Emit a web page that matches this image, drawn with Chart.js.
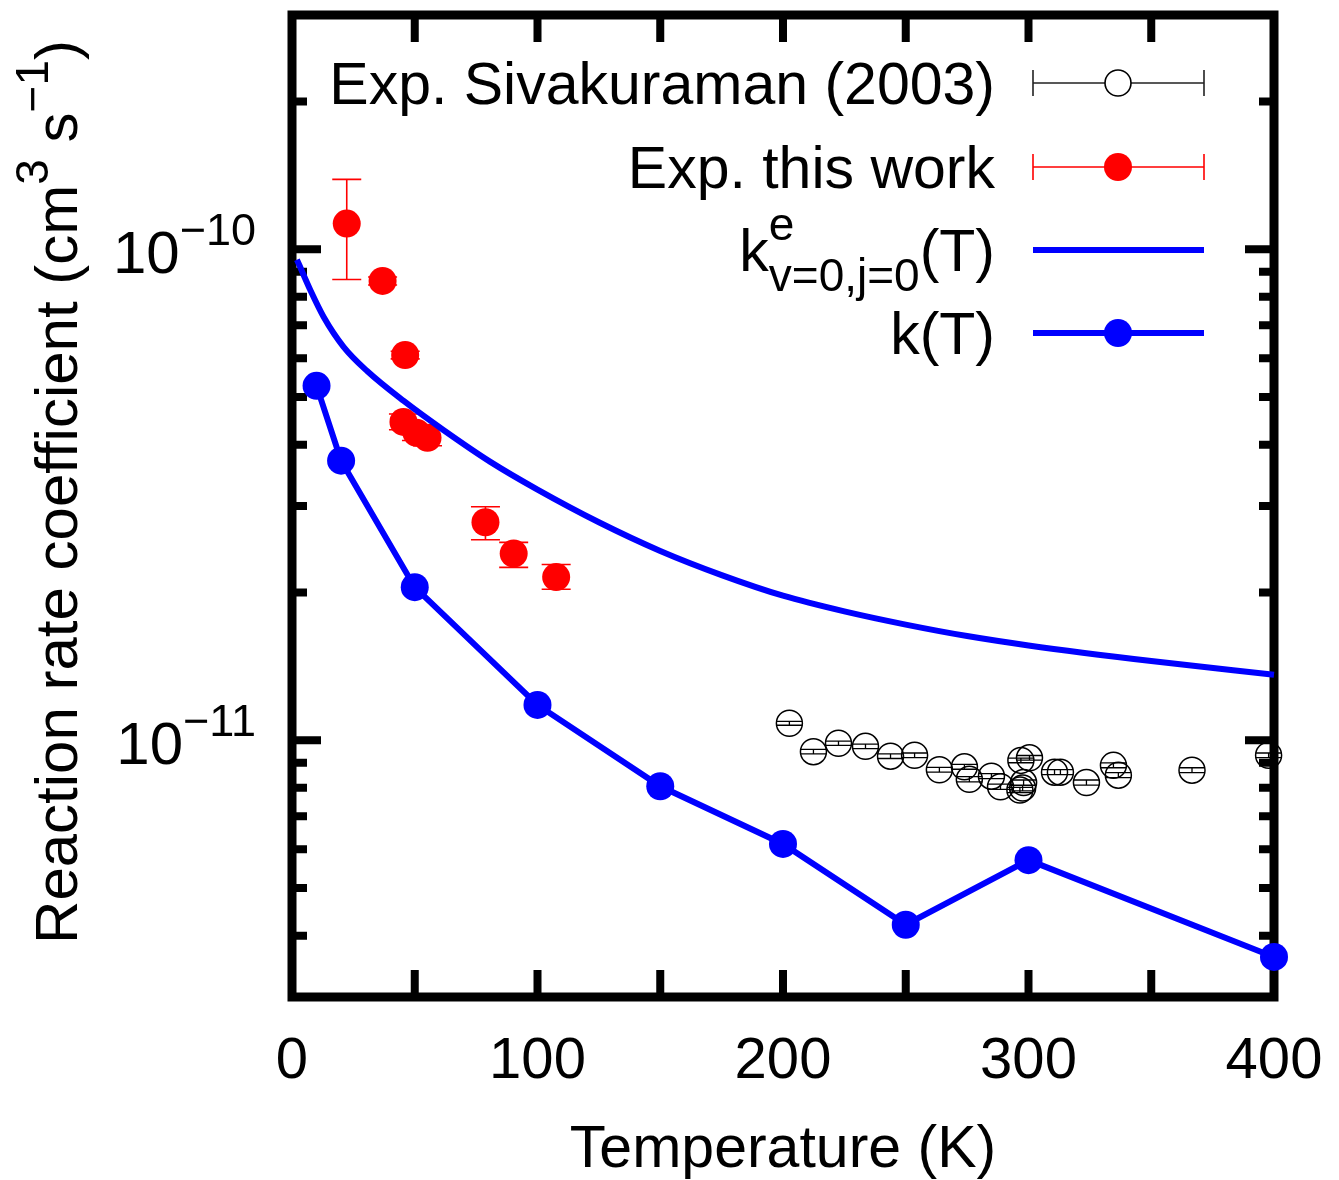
<!DOCTYPE html>
<html>
<head>
<meta charset="utf-8">
<script src="https://cdn.jsdelivr.net/npm/chart.js@4/dist/chart.umd.min.js"></script>
<style>
  html, body { margin: 0; padding: 0; background: #fff; }
  #wrap { width: 1339px; height: 1180px; position: relative; }
</style>
</head>
<body>
<div id="wrap"><canvas id="chart"></canvas></div>
<script>
// Exp. Sivakuraman (2003)
const sivaT = [202.6, 212.4, 222.6, 233.6, 243.8, 253.6, 263.7, 273.9, 275.9, 284.9, 288.6, 296.9, 300.4, 298.0, 297.6, 296.5, 310.6, 313.0, 323.6, 334.6, 336.6, 366.6, 397.8];
const sivaK = [1.083e-11, 9.48e-12, 9.86e-12, 9.72e-12, 9.28e-12, 9.32e-12, 8.71e-12, 8.83e-12, 8.33e-12, 8.45e-12, 8.04e-12, 9.10e-12, 9.21e-12, 8.20e-12, 7.99e-12, 7.92e-12, 8.61e-12, 8.61e-12, 8.20e-12, 8.89e-12, 8.49e-12, 8.69e-12, 9.32e-12];
const sivaErr = [0.1e-12, 0.1e-12, 0.1e-12, 0.1e-12, 0.1e-12, 0.1e-12, 0.1e-12, 0.1e-12, 0.1e-12, 0.1e-12, 0.1e-12, 0.1e-12, 0.1e-12, 0.1e-12, 0.1e-12, 0.1e-12, 0.1e-12, 0.1e-12, 0.1e-12, 0.1e-12, 0.1e-12, 0.1e-12, 0.1e-12];

// Exp. this work
const thisT = [22.3, 36.9, 46.1, 45.4, 50.7, 55.2, 78.8, 90.3, 107.6];
const thisK = [1.128e-10, 8.62e-11, 6.09e-11, 4.45e-11, 4.23e-11, 4.13e-11, 2.78e-11, 2.40e-11, 2.15e-11];
const thisLo = [8.68e-11, 8.46e-11, 5.98e-11, 4.29e-11, 4.08e-11, 3.98e-11, 2.56e-11, 2.25e-11, 2.03e-11];
const thisHi = [1.388e-10, 8.78e-11, 6.20e-11, 4.62e-11, 4.39e-11, 4.29e-11, 2.99e-11, 2.53e-11, 2.28e-11];

// k^e_{v=0,j=0}(T)
const keT = [2, 2.7, 7.5, 12.9, 21, 30.6, 45.5, 61.8, 80.8, 100, 125, 150, 175, 200, 225, 250, 275, 300, 350, 400];
const keK = [9.52e-11, 9.35e-11, 8.25e-11, 7.28e-11, 6.33e-11, 5.65e-11, 4.91e-11, 4.28e-11, 3.69e-11, 3.24e-11, 2.78e-11, 2.43e-11, 2.17e-11, 1.97e-11, 1.83e-11, 1.72e-11, 1.63e-11, 1.56e-11, 1.45e-11, 1.36e-11];

// k(T)
const kT = [10, 20, 50, 100, 150, 200, 250, 300, 400];
const kK = [5.27e-11, 3.71e-11, 2.05e-11, 1.18e-11, 8.06e-12, 6.15e-12, 4.21e-12, 5.70e-12, 3.62e-12];

// axes
const xTickLabels = [0, 100, 200, 300, 400];
const xTickMarks = [50, 100, 150, 200, 250, 300, 350];
const yDecades = [1e-10, 1e-11];

const FONT = '"Liberation Sans", Arial, Helvetica, sans-serif';
const RED = '#ff0000';
const BLUE = '#0000ff';

const pts = (xs, ys) => xs.map((x, i) => ({x: x, y: ys[i]}));

function layoutParts(ctx, parts) {
	let x = 0;
	let prevStart = 0;
	const items = [];
	for (const p of parts) {
		ctx.font = p.size + 'px ' + FONT;
		const w = ctx.measureText(p.text).width;
		let start;
		if (p.stack) {
			start = prevStart;
			x = Math.max(x, start + w);
		} else {
			start = x;
			x = start + w;
		}
		items.push({p: p, start: start});
		prevStart = start;
	}
	return {items: items, width: x};
}

function drawParts(ctx, parts, x, y, align) {
	const l = layoutParts(ctx, parts);
	let x0 = x;
	if (align === 'right') x0 = x - l.width;
	if (align === 'center') x0 = x - l.width / 2;
	ctx.textAlign = 'left';
	ctx.textBaseline = 'alphabetic';
	for (const it of l.items) {
		ctx.font = it.p.size + 'px ' + FONT;
		ctx.fillText(it.p.text, x0 + it.start, y + (it.p.dy || 0));
	}
}

function drawErrBars(c, xs, lo, hi, color, lw, cap) {
	const ctx = c.ctx;
	const sx = c.scales.x;
	const sy = c.scales.y;
	ctx.save();
	ctx.strokeStyle = color;
	ctx.lineWidth = lw;
	ctx.beginPath();
	xs.forEach((t, i) => {
		const px = sx.getPixelForValue(t);
		const pTop = sy.getPixelForValue(hi[i]);
		const pBot = sy.getPixelForValue(lo[i]);
		ctx.moveTo(px, pTop); ctx.lineTo(px, pBot);
		ctx.moveTo(px - cap, pTop); ctx.lineTo(px + cap, pTop);
		ctx.moveTo(px - cap, pBot); ctx.lineTo(px + cap, pBot);
	});
	ctx.stroke();
	ctx.restore();
}

const framePlugin = {
	id: 'frame',
	beforeDatasetsDraw(c) {
		const ctx = c.ctx;
		const a = c.chartArea;
		const sx = c.scales.x;
		const sy = c.scales.y;
		ctx.save();
		ctx.strokeStyle = '#000';
		ctx.lineWidth = 8;
		ctx.beginPath();
		xTickMarks.forEach(t => {
			const px = sx.getPixelForValue(t);
			ctx.moveTo(px, a.bottom); ctx.lineTo(px, a.bottom - 27);
			ctx.moveTo(px, a.top); ctx.lineTo(px, a.top + 27);
		});
		for (let e = -12; e <= -10; e++) {
			for (let m = 1; m <= 9; m++) {
				const v = m * Math.pow(10, e);
				if (v < sy.min * 0.999 || v > sy.max * 1.001) continue;
				const py = sy.getPixelForValue(v);
				const len = m === 1 ? 29 : 15;
				ctx.moveTo(a.left, py); ctx.lineTo(a.left + len, py);
				ctx.moveTo(a.right, py); ctx.lineTo(a.right - len, py);
			}
		}
		ctx.stroke();
		ctx.lineWidth = 9;
		ctx.strokeRect(a.left, a.top, a.right - a.left, a.bottom - a.top);

		// tick labels
		ctx.fillStyle = '#000';
		ctx.font = '58px ' + FONT;
		ctx.textAlign = 'center';
		ctx.textBaseline = 'alphabetic';
		xTickLabels.forEach(t => {
			ctx.fillText(String(t), sx.getPixelForValue(t), 1078);
		});
		yDecades.forEach(v => {
			const py = sy.getPixelForValue(v);
			const exp = Math.round(Math.log10(v));
			drawParts(ctx, [
				{text: '10', size: 60},
				{text: '\u2212' + Math.abs(exp), size: 45, dy: -28}
			], 256, py + 24, 'right');
		});

		// axis titles
		ctx.font = '59px ' + FONT;
		ctx.textAlign = 'center';
		ctx.fillText('Temperature (K)', 783, 1167);
		ctx.save();
		ctx.translate(77, 492);
		ctx.rotate(-Math.PI / 2);
		drawParts(ctx, [
			{text: 'Reaction rate coefficient (cm', size: 60},
			{text: '3', size: 46, dy: -29},
			{text: ' s', size: 60},
			{text: '\u22121', size: 46, dy: -29},
			{text: ')', size: 60}
		], 0, 0, 'center');
		ctx.restore();

		// error bars (under the markers)
		drawErrBars(c, sivaT, sivaK.map((k, i) => k - sivaErr[i]), sivaK.map((k, i) => k + sivaErr[i]), '#000', 1.3, 13);
		drawErrBars(c, thisT, thisLo, thisHi, RED, 1.6, 14.5);
		ctx.restore();
	},
	afterDraw(c) {
		const ctx = c.ctx;
		ctx.save();
		ctx.fillStyle = '#000';
		const rows = [83, 167, 250, 333];
		const textX = 995;
		const l0 = 1033, l1 = 1204, mx = 1118;

		drawParts(ctx, [{text: 'Exp. Sivakuraman (2003)', size: 59}], textX, rows[0] + 21, 'right');
		drawParts(ctx, [{text: 'Exp. this work', size: 59}], textX, rows[1] + 21, 'right');
		drawParts(ctx, [
			{text: 'k', size: 59},
			{text: 'e', size: 46, dy: -31},
			{text: 'v=0,j=0', size: 46, dy: 20, stack: true},
			{text: '(T)', size: 59}
		], textX, rows[2] + 21, 'right');
		drawParts(ctx, [{text: 'k(T)', size: 59}], textX, rows[3] + 21, 'right');

		// row 1 sample
		ctx.strokeStyle = '#222';
		ctx.lineWidth = 1.6;
		ctx.beginPath();
		ctx.moveTo(l0, rows[0]); ctx.lineTo(l1, rows[0]);
		ctx.moveTo(l0, rows[0] - 13); ctx.lineTo(l0, rows[0] + 13);
		ctx.moveTo(l1, rows[0] - 13); ctx.lineTo(l1, rows[0] + 13);
		ctx.stroke();
		ctx.fillStyle = '#fff';
		ctx.strokeStyle = '#000';
		ctx.lineWidth = 1.6;
		ctx.beginPath();
		ctx.arc(mx, rows[0], 13, 0, Math.PI * 2);
		ctx.fill();
		ctx.stroke();

		// row 2 sample
		ctx.strokeStyle = RED;
		ctx.lineWidth = 1.6;
		ctx.beginPath();
		ctx.moveTo(l0, rows[1]); ctx.lineTo(l1, rows[1]);
		ctx.moveTo(l0, rows[1] - 13); ctx.lineTo(l0, rows[1] + 13);
		ctx.moveTo(l1, rows[1] - 13); ctx.lineTo(l1, rows[1] + 13);
		ctx.stroke();
		ctx.fillStyle = RED;
		ctx.beginPath();
		ctx.arc(mx, rows[1], 14, 0, Math.PI * 2);
		ctx.fill();

		// row 3 and 4 samples
		ctx.strokeStyle = BLUE;
		ctx.lineWidth = 6;
		ctx.beginPath();
		ctx.moveTo(l0, rows[2]); ctx.lineTo(l1, rows[2]);
		ctx.moveTo(l0, rows[3]); ctx.lineTo(l1, rows[3]);
		ctx.stroke();
		ctx.fillStyle = BLUE;
		ctx.beginPath();
		ctx.arc(mx, rows[3], 14, 0, Math.PI * 2);
		ctx.fill();
		ctx.restore();
	}
};

new Chart(document.getElementById('chart'), {
	type: 'scatter',
	data: {
		datasets: [
			{
				label: 'k(T)',
				data: pts(kT, kK),
				showLine: true,
				tension: 0,
				borderColor: BLUE,
				backgroundColor: BLUE,
				borderWidth: 6,
				pointRadius: 14,
				pointBorderWidth: 0,
				clip: false,
				order: 0,
			},
			{
				label: 'k^e v=0,j=0 (T)',
				data: pts(keT, keK),
				showLine: true,
				cubicInterpolationMode: 'monotone',
				borderColor: BLUE,
				borderWidth: 6,
				pointRadius: 0,
				clip: false,
				order: 1,
			},
			{
				label: 'Exp. this work',
				data: pts(thisT, thisK),
				backgroundColor: RED,
				borderColor: RED,
				pointRadius: 14,
				pointBorderWidth: 0,
				clip: false,
				order: 2,
			},
			{
				label: 'Exp. Sivakuraman (2003)',
				data: pts(sivaT, sivaK),
				backgroundColor: 'rgba(0,0,0,0)',
				borderColor: '#000',
				pointRadius: 13,
				pointBorderWidth: 1.5,
				clip: false,
				order: 3,
			},
		],
	},
	options: {
		responsive: true,
		maintainAspectRatio: false,
		devicePixelRatio: 1,
		animation: false,
		events: [],
		layout: {padding: {left: 292, right: 65, top: 15, bottom: 183}},
		scales: {
			x: {type: 'linear', min: 0, max: 400, display: false},
			y: {type: 'logarithmic', min: 3e-12, max: 3e-10, bounds: 'data', display: false},
		},
		plugins: {
			legend: {display: false},
			tooltip: {enabled: false},
		},
	},
	plugins: [framePlugin],
});
</script>
</body>
</html>
